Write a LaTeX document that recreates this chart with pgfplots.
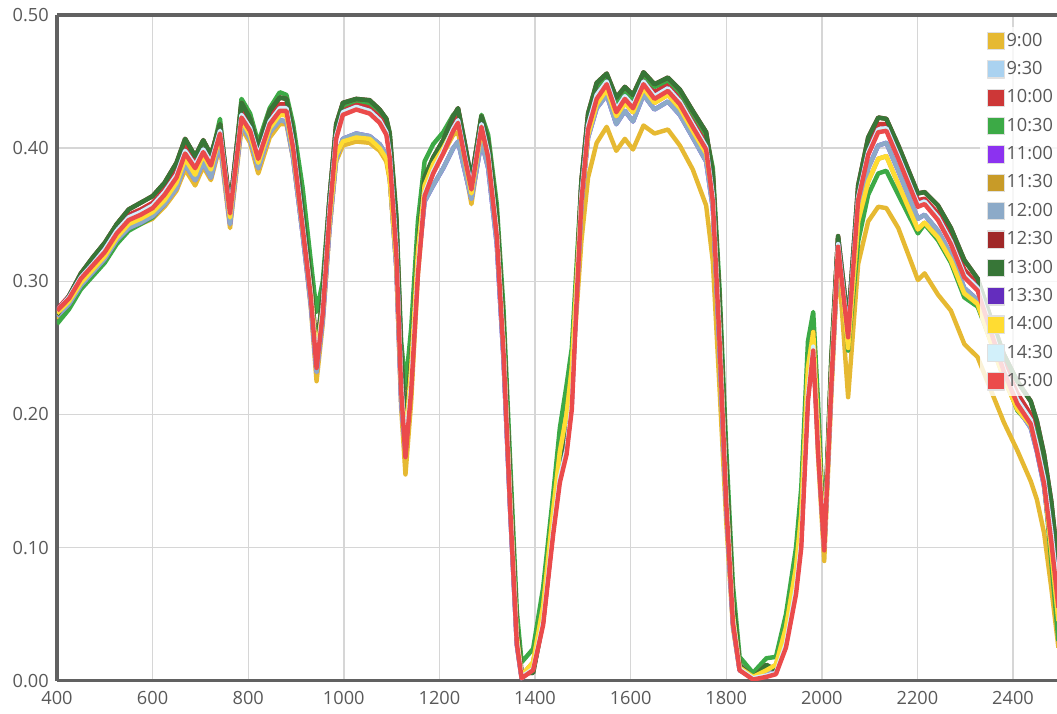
\documentclass[border=0pt]{standalone}
\usepackage{fontspec}
\setmainfont{Open Sans}
\usepackage{pgfplots}
\pgfplotsset{compat=1.18}
\usepackage{pgfplotstable}
\definecolor{cA}{RGB}{230,185,50}
\definecolor{cB}{RGB}{170,210,240}
\definecolor{cC}{RGB}{205,55,55}
\definecolor{cD}{RGB}{60,170,70}
\definecolor{cE}{RGB}{140,50,240}
\definecolor{cF}{RGB}{200,155,40}
\definecolor{cG}{RGB}{140,170,200}
\definecolor{cH}{RGB}{160,40,40}
\definecolor{cI}{RGB}{55,118,55}
\definecolor{cJ}{RGB}{100,45,190}
\definecolor{cK}{RGB}{255,220,50}
\definecolor{cL}{RGB}{210,240,250}
\definecolor{cM}{RGB}{235,75,75}
\pgfplotstableread{
x D R2 W R B Y2 G Y
400 .275 .279 .278 .278 .274 .276 .268 .272
425 .289 .289 .288 .287 .283 .285 .279 .281
450 .306 .305 .303 .302 .297 .299 .294 .295
475 .318 .315 .313 .312 .307 .309 .304 .305
500 .329 .326 .324 .322 .317 .319 .314 .315
525 .343 .340 .338 .336 .331 .333 .328 .329
550 .354 .350 .348 .346 .340 .343 .338 .339
575 .359 .354 .352 .350 .344 .347 .343 .343
600 .364 .359 .357 .355 .349 .352 .348 .347
625 .374 .369 .367 .365 .358 .361 .358 .356
650 .389 .383 .380 .378 .370 .374 .372 .368
668 .407 .401 .398 .396 .388 .392 .398 .384
689 .394 .389 .387 .385 .376 .380 .386 .372
706 .406 .401 .399 .397 .389 .395 .404 .386
722 .395 .391 .389 .387 .378 .384 .392 .376
741 .418 .415 .413 .411 .405 .410 .422 .402
762 .356 .353 .352 .351 .343 .348 .352 .340
786 .434 .428 .425 .423 .418 .421 .437 .415
804 .422 .417 .415 .413 .407 .410 .426 .404
821 .400 .396 .394 .392 .385 .389 .404 .381
845 .428 .423 .420 .418 .412 .415 .430 .408
866 .438 .433 .430 .428 .421 .425 .442 .418
880 .437 .433 .430 .428 .420 .425 .440 .418
894 .412 .406 .403 .400 .393 .398 .418 .392
914 .352 .346 .343 .340 .335 .340 .370 .336
931 .300 .294 .291 .288 .283 .292 .315 .280
943 .248 .242 .238 .235 .232 .245 .277 .225
956 .290 .284 .280 .276 .272 .280 .300 .268
970 .362 .356 .353 .349 .340 .345 .362 .338
984 .418 .412 .409 .407 .392 .395 .415 .390
998 .434 .430 .427 .425 .407 .405 .432 .402
1026 .437 .433 .431 .429 .411 .408 .436 .405
1054 .436 .431 .428 .426 .409 .407 .434 .404
1075 .429 .424 .421 .419 .403 .400 .428 .398
1089 .422 .416 .412 .410 .395 .392 .422 .390
1096 .410 .402 .396 .393 .380 .378 .412 .376
1110 .345 .333 .325 .320 .310 .315 .350 .310
1120 .245 .232 .224 .218 .210 .220 .255 .205
1129 .190 .180 .174 .168 .172 .180 .220 .155
1141 .240 .230 .224 .218 .225 .235 .265 .210
1155 .325 .315 .310 .305 .312 .322 .345 .305
1169 .378 .370 .366 .364 .360 .372 .390 .362
1187 .393 .386 .383 .381 .372 .388 .403 .382
1208 .406 .400 .398 .396 .385 .400 .412 .396
1229 .424 .418 .415 .413 .400 .414 .425 .410
1239 .430 .424 .421 .419 .405 .418 .428 .412
1253 .404 .398 .395 .393 .383 .392 .402 .386
1267 .376 .372 .370 .369 .362 .366 .375 .358
1288 .424 .420 .418 .416 .405 .414 .425 .408
1302 .405 .399 .396 .393 .385 .394 .410 .388
1320 .350 .342 .338 .334 .328 .338 .358 .332
1334 .268 .258 .252 .247 .242 .254 .280 .245
1348 .150 .140 .135 .130 .128 .138 .165 .130
1362 .040 .034 .031 .028 .027 .034 .052 .028
1372 .006 .004 .003 .002 .002 .004 .014 .002
1396 .006 .010 .009 .008 .010 .014 .024 .012
1417 .045 .048 .045 .042 .048 .056 .070 .052
1438 .115 .118 .114 .110 .118 .128 .140 .124
1452 .158 .158 .153 .149 .160 .172 .190 .168
1466 .180 .178 .174 .170 .182 .200 .222 .196
1477 .220 .214 .208 .204 .218 .235 .250 .228
1487 .300 .294 .289 .285 .290 .300 .312 .278
1497 .375 .368 .364 .360 .358 .362 .375 .330
1511 .426 .420 .417 .414 .408 .410 .422 .378
1529 .449 .443 .440 .437 .430 .433 .446 .404
1550 .456 .452 .450 .448 .440 .444 .454 .416
1570 .438 .432 .429 .427 .418 .424 .434 .398
1588 .446 .441 .439 .437 .428 .434 .443 .407
1605 .440 .435 .432 .430 .420 .427 .437 .399
1627 .457 .452 .450 .448 .440 .445 .455 .417
1650 .448 .442 .439 .437 .429 .434 .446 .411
1678 .453 .448 .445 .443 .435 .440 .451 .414
1703 .444 .438 .435 .433 .425 .430 .442 .402
1730 .428 .422 .418 .416 .408 .413 .426 .384
1758 .412 .405 .401 .399 .390 .396 .410 .357
1772 .380 .370 .364 .360 .355 .362 .385 .315
1786 .285 .270 .261 .255 .250 .262 .295 .220
1800 .160 .148 .140 .134 .132 .142 .175 .120
1814 .060 .052 .047 .044 .043 .050 .072 .040
1828 .012 .010 .009 .008 .008 .010 .018 .008
1856 .002 .002 .002 .001 .002 .003 .006 .002
1884 .012 .006 .004 .003 .005 .008 .017 .006
1904 .008 .008 .006 .005 .008 .012 .018 .010
1925 .028 .032 .028 .025 .032 .040 .050 .036
1946 .072 .075 .070 .065 .075 .085 .100 .080
1957 .110 .110 .105 .100 .112 .125 .145 .118
1971 .225 .220 .215 .210 .222 .235 .255 .228
1982 .262 .255 .251 .248 .255 .262 .277 .258
1992 .190 .182 .177 .173 .180 .190 .210 .170
2005 .105 .102 .100 .098 .100 .100 .105 .090
2020 .240 .232 .227 .223 .225 .230 .245 .215
2034 .334 .330 .328 .326 .322 .325 .333 .319
2055 .268 .263 .260 .258 .255 .250 .248 .213
2076 .372 .366 .363 .361 .350 .345 .330 .313
2097 .408 .401 .397 .395 .385 .375 .365 .345
2118 .423 .418 .414 .412 .402 .392 .381 .356
2135 .422 .418 .415 .413 .404 .394 .383 .355
2160 .402 .397 .394 .392 .383 .373 .365 .340
2201 .366 .361 .358 .356 .347 .339 .336 .301
2215 .367 .362 .360 .358 .350 .344 .343 .306
2243 .357 .351 .348 .346 .338 .333 .331 .290
2270 .340 .334 .330 .328 .320 .316 .314 .278
2298 .316 .309 .305 .303 .295 .291 .288 .253
2326 .302 .297 .295 .293 .286 .283 .281 .243
2354 .272 .267 .264 .262 .256 .254 .255 .218
2381 .245 .238 .234 .232 .228 .227 .230 .194
2409 .225 .216 .211 .208 .205 .204 .203 .173
2437 .210 .200 .196 .193 .190 .192 .192 .150
2450 .195 .183 .177 .173 .172 .176 .186 .136
2465 .170 .158 .152 .148 .146 .150 .150 .111
2480 .135 .120 .112 .105 .100 .098 .090 .070
2495 .085 .070 .062 .055 .050 .045 .030 .025
}\spec
\begin{document}
\begin{tikzpicture}
\begin{axis}[name=ax, scale only axis, width=428.6pt, height=285.4pt,
  xmin=400, xmax=2492, ymin=0, ymax=0.5,
  xtick={400,600,800,1000,1200,1400,1600,1800,2000,2200,2400},
  ytick={0,0.1,0.2,0.3,0.4,0.5},
  grid=major, grid style={draw=black!16, line width=0.6pt},
  axis x line*=box, axis y line*=left,
  axis line style={draw=black!62, line width=1.3pt},
  major tick length=0pt,
  tick label style={font=\fontsize{7.8}{9}\selectfont, text=black!65},
  /pgf/number format/assume math mode=true,
  xticklabel style={/pgf/number format/1000 sep={}, yshift=-1pt},
  yticklabel style={/pgf/number format/.cd, fixed, fixed zerofill, precision=2},
  no markers,
  every axis plot/.append style={line width=1.9pt, line join=round},
  legend cell align=left,
  legend style={at={(axis description cs:1,1)}, anchor=north east, xshift=2pt, yshift=-5pt,
    draw=none, fill=white, fill opacity=0.8, text opacity=1,
    font=\fontsize{7.8}{9}\selectfont, text=black!65, row sep=4pt,
    nodes={inner sep=0.5pt}},
  legend image code/.code={\draw[#1, fill, fill opacity=1, draw=black!12, line width=0.5pt] (0pt,-3.6pt) rectangle (7.4pt,3.8pt);},
]
\addplot[color=cA] table[x=x,y=Y]{\spec}; \addlegendentry{9:00}
\addplot[color=cB] table[x=x,y=B]{\spec}; \addlegendentry{9:30}
\addplot[color=cC] table[x=x,y=R2]{\spec}; \addlegendentry{10:00}
\addplot[color=cD] table[x=x,y=G]{\spec}; \addlegendentry{10:30}
\addplot[color=cE] table[x=x,y=B]{\spec}; \addlegendentry{11:00}
\addplot[color=cF] table[x=x,y=Y2]{\spec}; \addlegendentry{11:30}
\addplot[color=cG] table[x=x,y=B]{\spec}; \addlegendentry{12:00}
\addplot[color=cH] table[x=x,y=D]{\spec}; \addlegendentry{12:30}
\addplot[color=cI] table[x=x,y=D]{\spec}; \addlegendentry{13:00}
\addplot[color=cJ] table[x=x,y=W]{\spec}; \addlegendentry{13:30}
\addplot[color=cK] table[x=x,y=Y2]{\spec}; \addlegendentry{14:00}
\addplot[color=cL] table[x=x,y=W]{\spec}; \addlegendentry{14:30}
\addplot[color=cM] table[x=x,y=R]{\spec}; \addlegendentry{15:00}
\end{axis}
\path (ax.south west) ++(-24.43pt,-14.14pt) coordinate (bbA);
\path (ax.north east) ++(0pt,6.43pt) coordinate (bbB);
\pgfresetboundingbox
\useasboundingbox (bbA) rectangle (bbB);
\end{tikzpicture}
\end{document}
